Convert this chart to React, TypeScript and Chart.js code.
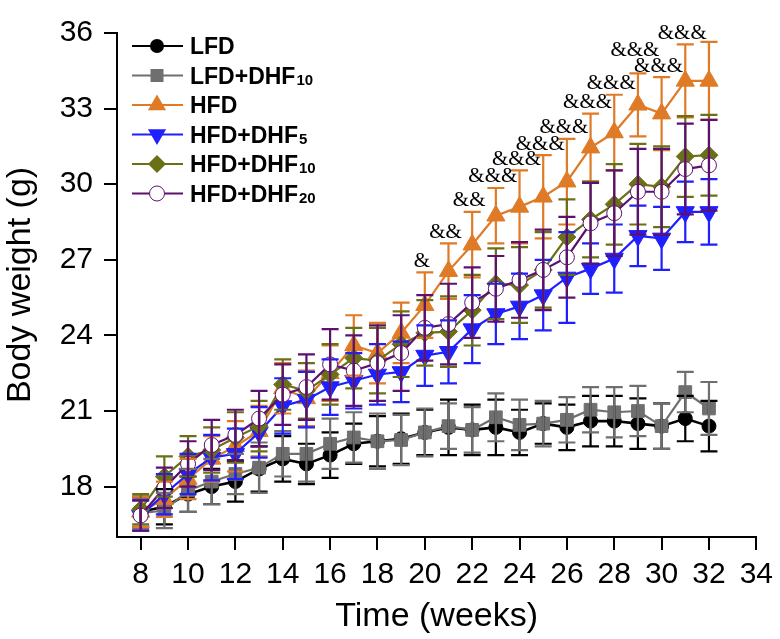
import React, { useEffect, useRef } from "react";
import { Chart, registerables } from "chart.js";

Chart.register(...registerables);

// ---------- data ----------
const weeks = [8, 9, 10, 11, 12, 13, 14, 15, 16, 17, 18, 19, 20, 21, 22, 23, 24, 25, 26, 27, 28, 29, 30, 31, 32];

const lfd = [17.0, 17.2, 17.7, 18.0, 18.2, 18.7, 19.1, 18.9, 19.25, 19.7, 19.8, 19.9, 20.15, 20.35, 20.25, 20.35, 20.15, 20.5, 20.35, 20.6, 20.6, 20.5, 20.4, 20.7, 20.4];
const lfdErr = [0.6, 0.7, 0.7, 0.7, 0.8, 0.9, 0.9, 0.8, 0.9, 0.8, 1.0, 1.0, 0.9, 1.1, 1.0, 1.1, 0.9, 0.8, 0.9, 1.0, 1.0, 1.0, 0.9, 0.9, 1.0];

const lfdDhf10 = [16.95, 17.05, 17.85, 18.2, 18.5, 18.75, 19.3, 19.3, 19.7, 19.95, 19.8, 19.85, 20.15, 20.4, 20.25, 20.75, 20.45, 20.5, 20.65, 21.05, 20.95, 21.0, 20.4, 21.75, 21.1];
const lfdDhf10Err = [0.6, 0.7, 0.85, 0.9, 0.8, 1.0, 0.9, 1.1, 1.0, 1.0, 1.1, 1.0, 0.95, 0.9, 0.9, 0.95, 1.0, 0.9, 0.9, 0.9, 1.0, 1.0, 0.9, 0.8, 1.05];

const hfd = [17.0, 17.5, 18.3, 19.1, 19.6, 20.2, 21.9, 21.5, 22.5, 23.6, 23.3, 24.1, 25.2, 26.55, 27.6, 28.75, 29.1, 29.5, 30.1, 31.45, 32.05, 33.15, 32.8, 34.1, 34.1];
const hfdErr = [0.6, 0.7, 0.8, 0.9, 1.0, 1.0, 1.0, 1.1, 1.1, 1.2, 1.2, 1.2, 1.3, 1.1, 1.3, 1.1, 1.45, 1.65, 1.7, 1.35, 1.5, 1.25, 1.45, 1.45, 1.55];

const hfdDhf5 = [16.85, 17.7, 18.5, 19.15, 19.3, 20.15, 21.2, 21.45, 21.95, 22.2, 22.45, 22.55, 23.2, 23.35, 24.25, 24.85, 25.15, 25.6, 26.3, 26.65, 27.05, 27.95, 27.85, 28.9, 28.9];
const hfdDhf5Err = [0.6, 0.8, 0.8, 0.9, 1.0, 1.0, 1.1, 1.1, 1.1, 1.1, 1.2, 1.2, 1.2, 1.25, 1.35, 1.2, 1.3, 1.4, 1.8, 1.0, 1.35, 1.2, 1.25, 1.2, 1.3];

const hfdDhf10 = [17.1, 18.4, 19.2, 19.45, 19.95, 20.4, 22.05, 21.8, 22.45, 23.1, 23.0, 23.65, 24.1, 24.15, 25.0, 26.05, 26.0, 26.6, 27.9, 28.6, 29.2, 30.0, 29.9, 31.1, 31.15];
const hfdDhf10Err = [0.6, 0.8, 0.8, 0.9, 1.0, 1.0, 1.0, 1.1, 1.2, 1.2, 1.3, 1.3, 1.3, 1.4, 1.4, 1.4, 1.5, 1.5, 1.5, 1.5, 1.6, 1.6, 1.6, 1.6, 1.6];

const hfdDhf20 = [16.85, 17.95, 18.9, 19.65, 20.05, 20.7, 21.65, 21.95, 22.85, 22.6, 22.9, 23.3, 24.3, 24.45, 25.3, 25.85, 26.2, 26.6, 27.1, 28.45, 28.85, 29.7, 29.7, 30.6, 30.75];
const hfdDhf20Err = [0.6, 0.8, 0.9, 1.0, 1.0, 1.1, 1.2, 1.3, 1.4, 1.4, 1.5, 1.5, 1.3, 1.6, 1.4, 1.3, 1.5, 1.6, 1.6, 1.6, 1.7, 1.7, 1.7, 1.8, 1.8];

// significance marks (HFD vs LFD), one per week
const sigLabels = ["", "", "", "", "", "", "", "", "", "", "", "", "&", "&&", "&&", "&&&", "&&&", "&&&", "&&&", "&&&", "&&&", "&&&", "&&&", "&&&", ""];

const seriesNames = ["LFD", "LFD+DHF", "HFD", "HFD+DHF", "HFD+DHF", "HFD+DHF"];
const seriesSubs = ["", "10", "", "5", "10", "20"];

const xTicks = [8, 10, 12, 14, 16, 18, 20, 22, 24, 26, 28, 30, 32, 34];
const yTicks = [18, 21, 24, 27, 30, 33, 36];

// ---------- styles ----------
const FONT = "'Liberation Sans', Arial, Helvetica, sans-serif";
const SERIF = "'Liberation Serif', 'Times New Roman', serif";
const colors = ["#000000", "#6f6f6f", "#df7a26", "#1f1fff", "#6b7016", "#5e1070"];
const markers = ["circle", "rect", "triangle", "triangleDown", "rectRot", "openCircle"];

function drawMarker(ctx: CanvasRenderingContext2D, kind: string, x: number, y: number, color: string) {
  ctx.save();
  ctx.fillStyle = color;
  ctx.strokeStyle = color;
  ctx.lineWidth = 1;
  ctx.beginPath();
  if (kind === "circle") {
    ctx.arc(x, y, 7, 0, Math.PI * 2);
    ctx.fill();
  } else if (kind === "openCircle") {
    ctx.arc(x, y, 7.5, 0, Math.PI * 2);
    ctx.fillStyle = "#ffffff";
    ctx.fill();
    ctx.stroke();
  } else if (kind === "rect") {
    ctx.rect(x - 6.5, y - 6.5, 13, 13);
    ctx.fill();
  } else if (kind === "triangle" || kind === "triangleDown") {
    const r = 10.5;
    const s = kind === "triangle" ? 1 : -1;
    ctx.moveTo(x, y - s * r);
    ctx.lineTo(x + r * Math.sin((2 * Math.PI) / 3), y + (s * r) / 2);
    ctx.lineTo(x - r * Math.sin((2 * Math.PI) / 3), y + (s * r) / 2);
    ctx.closePath();
    ctx.fill();
  } else if (kind === "rectRot") {
    const r = 9;
    ctx.moveTo(x, y - r);
    ctx.lineTo(x + r, y);
    ctx.lineTo(x, y + r);
    ctx.lineTo(x - r, y);
    ctx.closePath();
    ctx.fill();
  }
  ctx.restore();
}

const overlayPlugin = {
  id: "overlay",
  afterDatasetsDraw(chart: any) {
    const ctx: CanvasRenderingContext2D = chart.ctx;
    const xs = chart.scales.x;
    const ys = chart.scales.y;
    const area = chart.chartArea;

    // error bars
    chart.data.datasets.forEach((ds: any) => {
      ctx.save();
      ctx.strokeStyle = ds.borderColor;
      ctx.lineWidth = 2.2;
      ds.data.forEach((p: any, i: number) => {
        const e = ds.errors[i];
        const px = xs.getPixelForValue(p.x);
        const t = ys.getPixelForValue(p.y + e);
        const b = ys.getPixelForValue(p.y - e);
        ctx.beginPath();
        ctx.moveTo(px, t);
        ctx.lineTo(px, b);
        ctx.moveTo(px - 8.5, t);
        ctx.lineTo(px + 8.5, t);
        ctx.moveTo(px - 8.5, b);
        ctx.lineTo(px + 8.5, b);
        ctx.stroke();
      });
      ctx.restore();
    });

    // significance labels above HFD error bars (placed right to left, lifted when colliding)
    ctx.save();
    ctx.fillStyle = "#000";
    ctx.font = `21px ${SERIF}`;
    ctx.textAlign = "center";
    ctx.textBaseline = "middle";
    const placed: { x: number; y: number; w: number }[] = [];
    for (let i = weeks.length - 1; i >= 0; i--) {
      const s = sigLabels[i];
      if (!s) continue;
      const w = ctx.measureText(s).width;
      const px = xs.getPixelForValue(weeks[i]) - 3;
      let py = ys.getPixelForValue(hfd[i] + hfdErr[i]) - 11;
      const prev = placed[placed.length - 1];
      if (prev && Math.abs(prev.x - px) < (prev.w + w) / 2 && Math.abs(prev.y - py) < 15) {
        py = prev.y - 16;
      }
      placed.push({ x: px, y: py, w });
      ctx.fillText(s, px, py);
    }
    ctx.restore();

    // legend
    ctx.save();
    const left = area.left;
    const top = area.top;
    seriesNames.forEach((name, i) => {
      const cy = top + 13 + i * 29.5;
      ctx.strokeStyle = colors[i];
      ctx.lineWidth = 2.2;
      ctx.beginPath();
      ctx.moveTo(left + 15, cy);
      ctx.lineTo(left + 66, cy);
      ctx.stroke();
      drawMarker(ctx, markers[i], left + 40, cy, colors[i]);
      ctx.fillStyle = "#000";
      ctx.textAlign = "left";
      ctx.textBaseline = "alphabetic";
      ctx.font = `bold 23px ${FONT}`;
      ctx.fillText(name, left + 73, cy + 8);
      if (seriesSubs[i]) {
        const w = ctx.measureText(name).width;
        ctx.font = `bold 15px ${FONT}`;
        ctx.fillText(seriesSubs[i], left + 73 + w + 1, cy + 9);
      }
    });
    ctx.restore();
  },
};

function makeDataset(i: number, values: number[], errs: number[], order: number) {
  const kind = markers[i];
  let pointStyle: any = kind;
  let rotation = 0;
  let radius = 7;
  if (kind === "triangleDown") {
    pointStyle = "triangle";
    rotation = 180;
    radius = 10.5;
  } else if (kind === "triangle") {
    radius = 10.5;
  } else if (kind === "rect" || kind === "rectRot") {
    radius = 9;
  } else if (kind === "openCircle") {
    pointStyle = "circle";
    radius = 7.5;
  }
  return {
    label: seriesNames[i] + seriesSubs[i],
    data: weeks.map((w, k) => ({ x: w, y: values[k] })),
    errors: errs,
    borderColor: colors[i],
    backgroundColor: colors[i],
    borderWidth: i === 0 ? 2.6 : 2.2,
    pointStyle,
    pointRotation: rotation,
    pointRadius: radius,
    pointHoverRadius: radius,
    pointBackgroundColor: kind === "openCircle" ? "#ffffff" : colors[i],
    pointBorderColor: colors[i],
    pointBorderWidth: 1,
    tension: 0,
    fill: false,
    order,
  };
}

export default function App() {
  const ref = useRef<HTMLCanvasElement | null>(null);

  useEffect(() => {
    document.body.style.margin = "0";
    const canvas = ref.current;
    if (!canvas) return;
    const chart = new Chart(canvas, {
      type: "line",
      data: {
        datasets: [
          makeDataset(0, lfd, lfdErr, 5),
          makeDataset(1, lfdDhf10, lfdDhf10Err, 4),
          makeDataset(2, hfd, hfdErr, 3),
          makeDataset(3, hfdDhf5, hfdDhf5Err, 2),
          makeDataset(4, hfdDhf10, hfdDhf10Err, 1),
          makeDataset(5, hfdDhf20, hfdDhf20Err, 0),
        ] as any,
      },
      options: {
        animation: false,
        responsive: false,
        devicePixelRatio: 1,
        layout: { padding: { left: 0, top: 33, right: 21, bottom: 0 } },
        plugins: {
          legend: { display: false },
          tooltip: { enabled: false },
        },
        scales: {
          x: {
            type: "linear",
            min: 7,
            max: 34,
            afterBuildTicks: (scale: any) => {
              scale.ticks = xTicks.map((v) => ({ value: v }));
            },
            afterFit: (scale: any) => {
              scale.height = 102;
            },
            grid: { drawOnChartArea: false, drawTicks: true, tickLength: 13, color: "#000", lineWidth: 2 },
            border: { display: true, color: "#000", width: 2 },
            ticks: {
              color: "#000",
              font: { family: FONT, size: 30 },
              padding: 7,
              maxRotation: 0,
              autoSkip: false,
            },
            title: {
              display: true,
              text: "Time (weeks)",
              color: "#000",
              font: { family: FONT, size: 34 },
              padding: { top: 0, bottom: 2 },
            },
          },
          y: {
            type: "linear",
            min: 16,
            max: 36,
            afterBuildTicks: (scale: any) => {
              scale.ticks = yTicks.map((v) => ({ value: v }));
            },
            afterFit: (scale: any) => {
              scale.width = 117;
            },
            grid: { drawOnChartArea: false, drawTicks: true, tickLength: 13, color: "#000", lineWidth: 2 },
            border: { display: true, color: "#000", width: 2 },
            ticks: {
              color: "#000",
              font: { family: FONT, size: 30 },
              padding: 11,
              autoSkip: false,
            },
            title: {
              display: true,
              text: "Body weight (g)",
              color: "#000",
              font: { family: FONT, size: 34 },
              padding: { top: 0, bottom: 0 },
            },
          },
        },
      },
      plugins: [overlayPlugin],
    });
    return () => chart.destroy();
  }, []);

  return (
    <div style={{ position: "fixed", left: 0, top: 0, width: 780, height: 639, background: "#fff" }}>
      <canvas ref={ref} width={780} height={639} style={{ width: 780, height: 639, display: "block" }} />
    </div>
  );
}
